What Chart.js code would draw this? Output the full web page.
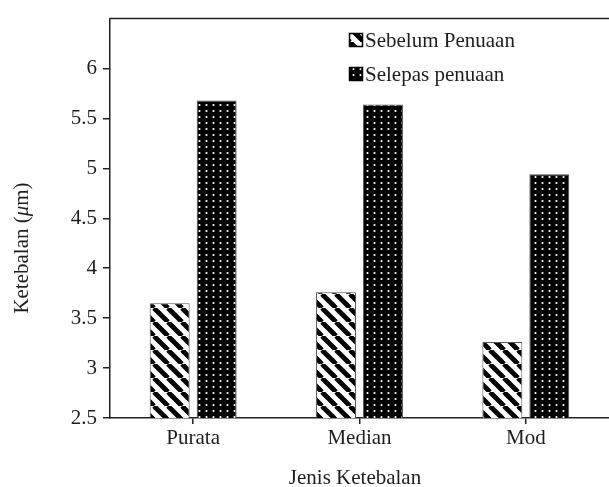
<!DOCTYPE html>
<html>
<head>
<meta charset="utf-8">
<script src="https://cdn.jsdelivr.net/npm/chart.js@4.4.1/dist/chart.umd.min.js"></script>
<style>
    body { margin: 0; background: #fff; }
    #wrap { width: 609px; height: 487px; position: relative; }
</style>
</head>
<body>
<div id="wrap"><canvas id="myChart1"></canvas></div>
<script>
const categories = ['Purata', 'Median', 'Mod'];
const sebelum = [3.65, 3.76, 3.26];
const selepas = [5.68, 5.64, 4.94];
const seriesNames = ['Sebelum Penuaan', 'Selepas penuaan'];
const yMin = 2.5, yMax = 6.5, yStep = 0.5;

const FONT = '"Liberation Serif", "Times New Roman", serif';
const INK = '#1e1e1e';

function hatchPattern() {
    const s = 14;
    const c = document.createElement('canvas');
    c.width = s; c.height = s;
    const g = c.getContext('2d');
    g.fillStyle = '#fff';
    g.fillRect(0, 0, s, s);
    g.strokeStyle = '#000';
    g.lineWidth = 4.8;
    [-s, 0, s].forEach(k => {
        g.beginPath();
        g.moveTo(k, 0);
        g.lineTo(k + s, s);
        g.stroke();
    });
    return g.createPattern(c, 'repeat');
}

function dotPattern() {
    const c = document.createElement('canvas');
    c.width = 7; c.height = 6;
    const g = c.getContext('2d');
    g.fillStyle = '#000';
    g.fillRect(0, 0, 7, 6);
    g.fillStyle = '#fff';
    g.beginPath();
    g.arc(3.5, 3, 1.1, 0, Math.PI * 2);
    g.fill();
    return g.createPattern(c, 'repeat');
}

const fills = [hatchPattern(), dotPattern()];

// frame top line, axis titles and the legend
const extras = {
    id: 'extras',
    afterDraw(chart) {
        const ctx = chart.ctx;
        const a = chart.chartArea;
        ctx.save();
        ctx.strokeStyle = '#222';
        ctx.lineWidth = 1.5;
        ctx.beginPath();
        ctx.moveTo(a.left, a.top);
        ctx.lineTo(chart.width, a.top);
        ctx.stroke();

        ctx.fillStyle = INK;
        ctx.textBaseline = 'middle';
        ctx.font = '21px ' + FONT;
        ctx.textAlign = 'center';
        ctx.fillText('Jenis Ketebalan', 355, 478);

        // y title with italic mu
        const parts = [['Ketebalan (', ''], ['\u03bc', 'italic '], ['m)', '']];
        let total = 0;
        parts.forEach(p => { ctx.font = p[1] + '21px ' + FONT; total += ctx.measureText(p[0]).width; });
        ctx.translate(22, 248);
        ctx.rotate(-Math.PI / 2);
        ctx.textAlign = 'left';
        let x = -total / 2;
        parts.forEach(p => {
            ctx.font = p[1] + '21px ' + FONT;
            ctx.fillText(p[0], x, 0);
            x += ctx.measureText(p[0]).width;
        });
        ctx.setTransform(1, 0, 0, 1, 0, 0);

        // legend
        ctx.font = '21px ' + FONT;
        ctx.textBaseline = 'alphabetic';
        ctx.textAlign = 'left';
        seriesNames.forEach((name, i) => {
            const by = 33 + i * 34;
            ctx.fillStyle = fills[i];
            ctx.fillRect(349, by, 14, 14);
            ctx.strokeStyle = '#000';
            ctx.lineWidth = 1.5;
            ctx.strokeRect(349.5, by + 0.5, 13, 13);
            ctx.fillStyle = INK;
            ctx.fillText(name, 365, by + 14);
        });
        ctx.restore();
    }
};

new Chart(document.getElementById('myChart1'), {
    type: 'bar',
    data: {
        labels: categories,
        datasets: [
            { label: seriesNames[0], data: sebelum, backgroundColor: fills[0], borderColor: '#555', borderWidth: 1 },
            { label: seriesNames[1], data: selepas, backgroundColor: fills[1], borderColor: '#555', borderWidth: 1 }
        ]
    },
    options: {
        responsive: true,
        maintainAspectRatio: false,
        animation: false,
        events: [],
        categoryPercentage: 0.565,
        barPercentage: 0.85,
        layout: { padding: { top: 13, left: 0, right: 0, bottom: 0 } },
        plugins: { legend: { display: false }, tooltip: { enabled: false } },
        scales: {
            x: {
                afterFit: s => { s.height = 69; },
                grid: { offset: false, drawOnChartArea: false, tickLength: 6, color: '#222', lineWidth: 1.5 },
                border: { color: '#222', width: 1.5 },
                ticks: { color: INK, font: { family: FONT, size: 21 }, padding: 2 }
            },
            y: {
                min: yMin,
                max: yMax,
                afterFit: s => { s.width = 110; },
                grid: {
                    drawOnChartArea: false,
                    tickLength: 7,
                    lineWidth: 1.5,
                    color: c => (c.tick && c.tick.value === yMax) ? 'rgba(0,0,0,0)' : '#222'
                },
                border: { color: '#222', width: 1.5 },
                ticks: {
                    stepSize: yStep,
                    color: INK,
                    padding: 6,
                    font: { family: FONT, size: 21 },
                    callback: v => v === yMax ? '' : v
                }
            }
        }
    },
    plugins: [extras]
});
</script>
</body>
</html>
